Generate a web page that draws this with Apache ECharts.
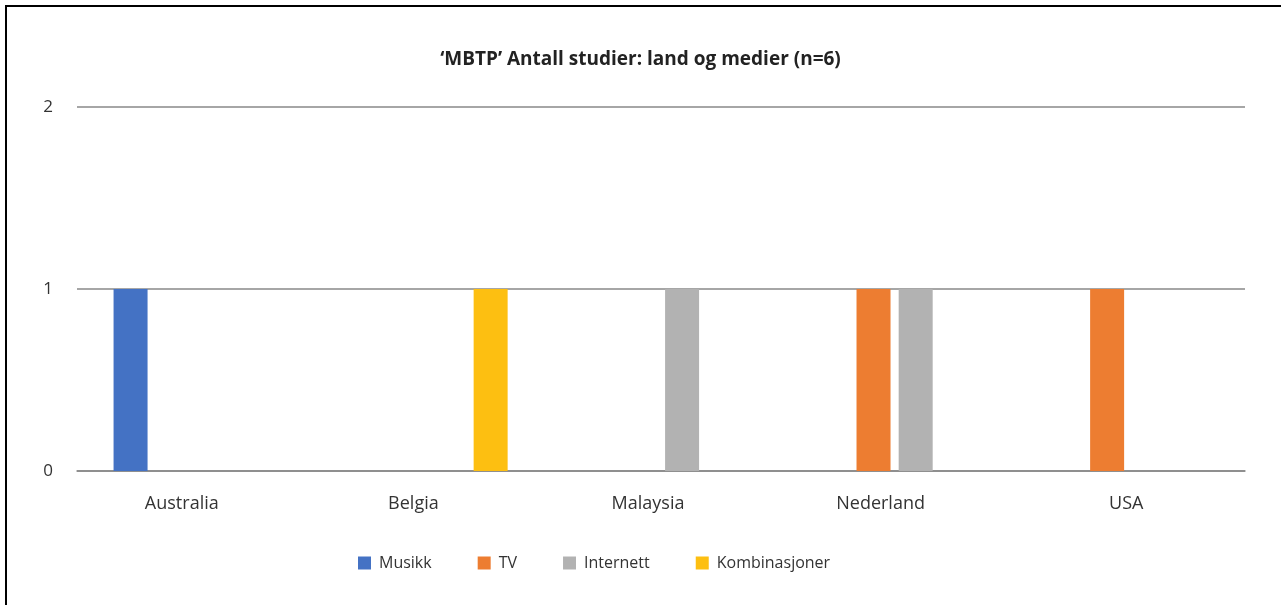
<!DOCTYPE html>
<html>
<head>
<meta charset="utf-8">
<script src="https://cdn.jsdelivr.net/npm/echarts@6/dist/echarts.min.js"></script>
<style>
html,body{margin:0;padding:0;background:#fff;}
#frame{position:absolute;left:5px;top:5px;width:1276px;height:600px;border-left:2px solid #000;border-top:2px solid #000;}
#chart{position:absolute;left:0;top:0;width:1281px;height:605px;}
</style>
</head>
<body>
<div id="frame"></div>
<div id="chart"></div>
<script>
const titleText = "‘MBTP’ Antall studier: land og medier (n=6)";
const categories = ["Australia", "Belgia", "Malaysia", "Nederland", "USA"];
const seriesNames = ["Musikk", "TV", "Internett", "Kombinasjoner"];
const musikk = [1, 0, 0, 0, 0];
const tv = [0, 0, 0, 1, 1];
const internett = [0, 0, 1, 1, 0];
const kombinasjoner = [0, 1, 0, 0, 0];
const yTicks = [0, 1, 2];
const colors = ["#4472C4", "#ED7D31", "#B2B2B2", "#FDBF11"];

const values = [musikk, tv, internett, kombinasjoner];
const font = "'Open Sans', 'Noto Sans', sans-serif";
// label shifts (left) as drawn in the reference
const labelShift = [24, 28, 26, 28, 4];
const rich = {};
labelShift.forEach((s, i) => {
  rich['l' + i] = {fontFamily: font, fontSize: 18, color: '#333', padding: [0, s, 0, 0]};
});

const chart = echarts.init(document.getElementById('chart'), null, {renderer: 'canvas'});
chart.setOption({
  animation: false,
  backgroundColor: 'transparent',
  title: {
    text: titleText,
    left: 'center',
    top: 45,
    textStyle: {fontFamily: font, fontSize: 19, fontWeight: 'bold', color: '#222'}
  },
  legend: {
    data: seriesNames,
    left: 353,
    top: 550,
    itemWidth: 13,
    itemHeight: 13,
    itemGap: 46,
    icon: 'rect',
    textStyle: {fontFamily: font, fontSize: 16, color: '#333', padding: [0, 0, 0, 3]}
  },
  grid: {left: 77, right: 36, top: 107, bottom: 134, containLabel: false},
  xAxis: {
    type: 'category',
    data: categories,
    axisLine: {show: true, lineStyle: {color: '#888', width: 1.5}},
    axisTick: {show: false},
    axisLabel: {
      fontFamily: font, fontSize: 18, color: '#333', margin: 24,
      formatter: (v, i) => '{l' + i + '|' + v + '}',
      rich: rich
    }
  },
  yAxis: {
    type: 'value',
    min: yTicks[0],
    max: yTicks[yTicks.length - 1],
    interval: 1,
    axisLine: {show: false},
    axisTick: {show: false},
    splitLine: {lineStyle: {color: '#888', width: 1.5}},
    axisLabel: {fontFamily: font, fontSize: 17, color: '#333', margin: 24}
  },
  series: seriesNames.map((n, i) => ({
    name: n,
    type: 'bar',
    data: values[i],
    barWidth: 34,
    barGap: '24%',
    itemStyle: {color: colors[i]}
  }))
});
</script>
</body>
</html>
